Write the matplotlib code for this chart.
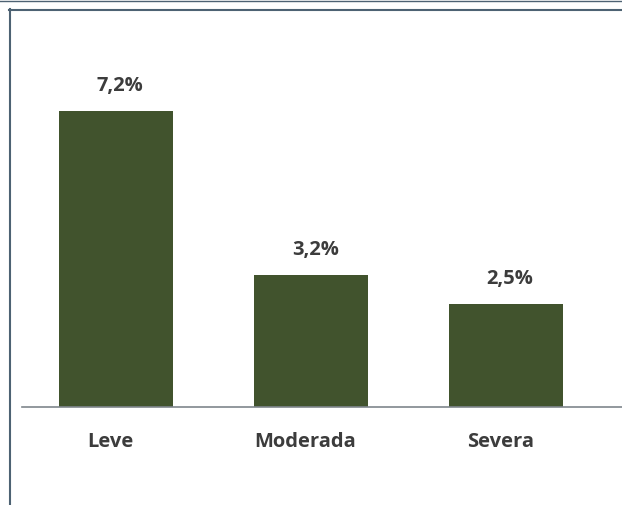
import numpy as np
import matplotlib
matplotlib.use('Agg')
import matplotlib.pyplot as plt
from matplotlib.lines import Line2D

categories = ['Leve', 'Moderada', 'Severa']
values = [7.2, 3.2, 2.5]
value_labels = ['7,2%', '3,2%', '2,5%']

BAR_COLOR = '#41532d'
TEXT_COLOR = '#3c3c3c'
FRAME_COLOR = '#4d6273'
W, H = 622, 505

plt.rcParams['font.family'] = ['Open Sans', 'DejaVu Sans']

fig = plt.figure(figsize=(W / 100, H / 100), dpi=100)
fig.patch.set_facecolor('white')

# axes: baseline at y=407px, spans x 22..622px
px_per_unit = 41.1
ax_h = 380
ax = fig.add_axes([22 / W, (H - 407) / H, 600 / W, ax_h / H])
ax.set_ylim(0, ax_h / px_per_unit)
ax.set_xlim(-0.482, 2.595)

x = np.arange(len(categories))
bars = ax.bar(x, values, width=0.585, color=BAR_COLOR, zorder=2)

for b, lab in zip(bars, value_labels):
    ax.annotate(lab, (b.get_x() + b.get_width() / 2, b.get_height()),
                xytext=(3, 11), textcoords='offset points',
                ha='center', va='bottom', fontsize=14.5, fontweight='bold',
                color=TEXT_COLOR)

for xi, cat in zip(x, categories):
    ax.annotate(cat, (xi, 0), xytext=(-4, -18), textcoords='offset points',
                ha='center', va='top', fontsize=14.5, fontweight='bold',
                color=TEXT_COLOR)

for s in ['top', 'right', 'left']:
    ax.spines[s].set_visible(False)
ax.spines['bottom'].set_color('#7f868c')
ax.spines['bottom'].set_linewidth(1.2)
ax.set_xticks([])
ax.set_yticks([])
ax.patch.set_alpha(0)

# frame lines around the chart box
fig.add_artist(Line2D([0, 1], [1 - 0.5 / H, 1 - 0.5 / H], color=FRAME_COLOR, lw=1.0))
fig.add_artist(Line2D([9 / W, 1], [1 - 10 / H, 1 - 10 / H], color=FRAME_COLOR, lw=1.5))
fig.add_artist(Line2D([10 / W, 10 / W], [0, 1 - 9 / H], color=FRAME_COLOR, lw=1.5))

fig.savefig('out.png', dpi=100)
